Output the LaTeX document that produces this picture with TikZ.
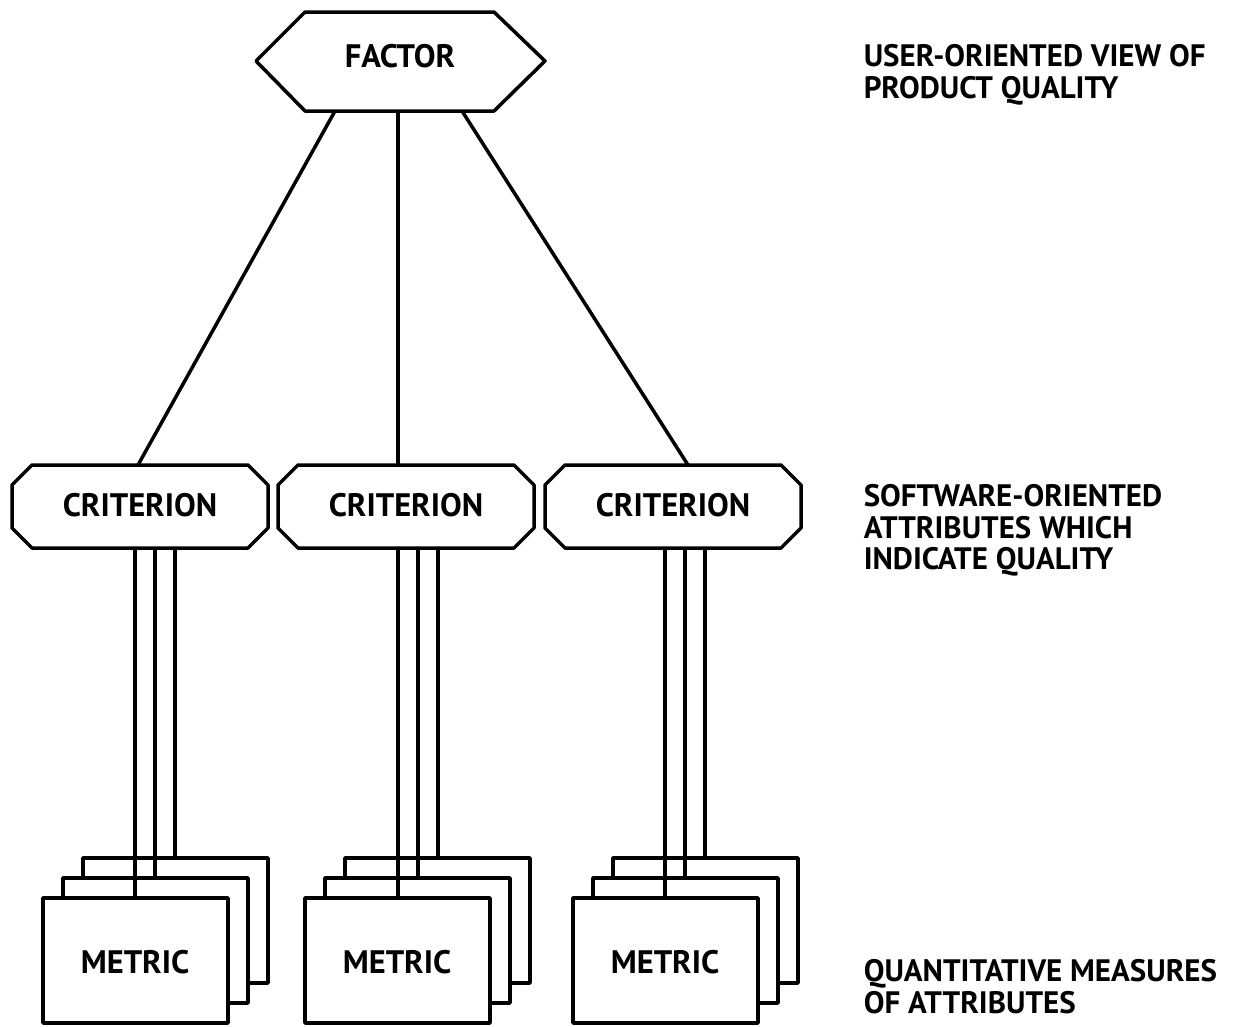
\documentclass[tikz,border=0pt]{standalone}
\usepackage{fontspec}
\setmainfont{PT Sans}
\usetikzlibrary{calc}
\begin{document}
\begin{tikzpicture}[x=1pt,y=-1pt,
  line width=3.5pt, line join=round,
  lbl/.style={font=\bfseries\fontsize{32.5}{33}\selectfont, inner sep=0pt},
  side/.style={font=\bfseries\fontsize{31}{31.5}\selectfont, inner sep=0pt, align=left, anchor=north west},
  metricbox/.style={draw, fill=white}
]
\useasboundingbox (0,0) rectangle (1257,1026);

% ---------- factor ----------
\node[lbl] (factor) at (400,56) {FACTOR};
\draw (256,61) -- (305,12) -- (494,12) -- (545,61) -- (494,111) -- (305,111) -- cycle;
\coordinate (fL) at (335,111);
\coordinate (fC) at (398,111);
\coordinate (fR) at (462,111);

% ---------- criteria ----------
\foreach \n/\cx in {1/140,2/406,3/673}{
  \draw (\cx-128,485) -- (\cx-108,465) -- (\cx+108,465) -- (\cx+128,485)
        -- (\cx+128,528) -- (\cx+108,548) -- (\cx-108,548) -- (\cx-128,528) -- cycle;
  \node[lbl] (crit\n) at (\cx,505) {CRITERION};
  \coordinate (ct\n) at (\cx,465);
  \coordinate (cb\n) at (\cx,548);
}

% ---------- metric stacks ----------
\foreach \n/\lx/\vx in {1/43/135,2/305/398,3/573/665}{
  \draw[metricbox] (\lx+40,858) rectangle (\lx+225,983);
  \draw[metricbox] (\lx+20,878) rectangle (\lx+205,1003);
  \draw[metricbox] (\lx,898) rectangle (\lx+185,1023);
  \node[lbl] (metric\n) at (\lx+92,962) {METRIC};
  \coordinate (ma\n) at (\vx,898);
  \coordinate (mb\n) at (\vx+20,878);
  \coordinate (mc\n) at (\vx+40,858);
  \coordinate (sa\n) at (\vx,548);
  \coordinate (sb\n) at (\vx+20,548);
  \coordinate (sc\n) at (\vx+40,548);
  \draw (sa\n) -- (ma\n);
  \draw (sb\n) -- (mb\n);
  \draw (sc\n) -- (mc\n);
}

% ---------- factor to criteria ----------
\draw (fL) -- (138,465);
\draw (fC) -- (398,465);
\draw (fR) -- (688,465);

% ---------- side labels ----------
\node[side] (l1) at (862,43) {USER-ORIENTED VIEW OF\\PRODUCT QUALITY};
\node[side] (l2) at (862,483) {SOFTWARE-ORIENTED\\ATTRIBUTES WHICH\\INDICATE QUALITY};
\node[side] (l3) at (862,958) {QUANTITATIVE MEASURES\\OF ATTRIBUTES};
\end{tikzpicture}
\end{document}
